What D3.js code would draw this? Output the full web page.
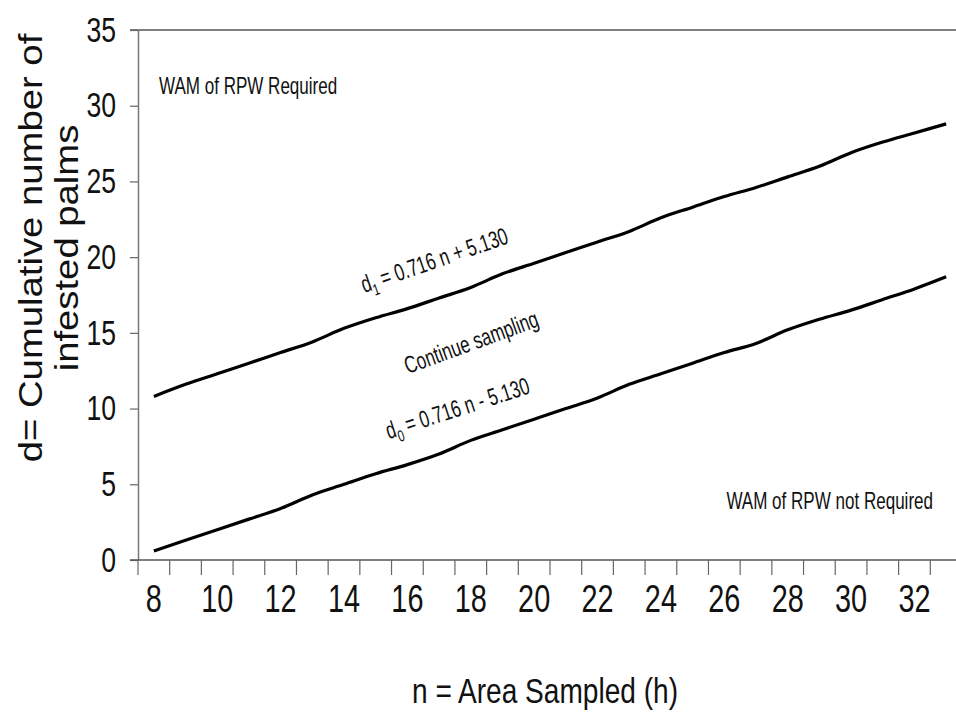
<!DOCTYPE html>
<html>
<head>
<meta charset="utf-8">
<script src="https://cdn.jsdelivr.net/npm/d3@7"></script>
<style>
  body { margin: 0; background: #fff; }
  svg { display: block; }
  text { font-family: "Liberation Sans", Arial, sans-serif; fill: #111; }
</style>
</head>
<body>
<div id="chart"></div>
<script>
// data
var areas = [8, 9, 10, 11, 12, 13, 14, 15, 16, 17, 18, 19, 20, 21, 22, 23, 24, 25, 26, 27, 28, 29, 30, 31, 32, 33]
var upperLine = [10.8, 11.6, 12.3, 13.0, 13.7, 14.4, 15.3, 16.0, 16.6, 17.3, 18.0, 18.9, 19.6, 20.3, 21.0, 21.7, 22.6, 23.3, 24.0, 24.6, 25.3, 26.0, 26.9, 27.6, 28.2, 28.8]
var lowerLine = [0.6, 1.3, 2.0, 2.7, 3.4, 4.3, 5.0, 5.7, 6.3, 7.0, 7.9, 8.6, 9.3, 10.0, 10.7, 11.6, 12.3, 13.0, 13.7, 14.3, 15.2, 15.9, 16.5, 17.2, 17.9, 18.7]
var xTickLabels = [8, 10, 12, 14, 16, 18, 20, 22, 24, 26, 28, 30, 32]
var yTicks = [0, 5, 10, 15, 20, 25, 30, 35]

var width = 956, height = 726
var margin = {top: 30, right: -6, bottom: 166, left: 138}
var narrow = 0.71   // no narrow font installed, so squeeze text horizontally

var svg = d3.select("#chart").append("svg")
    .attr("width", width)
    .attr("height", height)

var x = d3.scaleBand()
    .domain(areas)
    .range([margin.left, width - margin.right])

var y = d3.scaleLinear()
    .domain([0, 35])
    .range([height - margin.bottom, margin.top])

// text squeezed the way Arial Narrow looks
function narrowText(px, py, size, anchor, angle, squeeze) {
    return svg.append("text")
        .attr("transform", "translate(" + px + "," + py + ") rotate(" + (angle || 0) + ") scale(" + (squeeze || narrow) + ",1)")
        .attr("text-anchor", anchor || "start")
        .attr("font-size", size)
}

// top border line
svg.append("line")
    .attr("x1", margin.left - 8).attr("x2", width)
    .attr("y1", y(35)).attr("y2", y(35))
    .attr("stroke", "#555").attr("stroke-width", 1.5)

// Y axis
var yAxis = svg.append("g")
    .attr("transform", "translate(" + margin.left + ",0)")
    .call(d3.axisLeft(y).tickValues(yTicks).tickSize(8).tickSizeOuter(0).tickPadding(14))
yAxis.select(".domain").attr("stroke", "#777").attr("stroke-width", 1.5)
yAxis.selectAll(".tick line").attr("stroke", "#666").attr("stroke-width", 1.2)
yAxis.selectAll(".tick text")
    .attr("x", -22 / 0.76)
    .attr("transform", "scale(0.76,1)")
    .attr("font-family", "Liberation Sans, Arial, sans-serif")
    .attr("font-size", 35)
    .attr("fill", "#111")

// X axis: ticks on band edges, labels on every other band
var xAxis = svg.append("g")
    .attr("transform", "translate(0," + y(0) + ")")
xAxis.append("line")
    .attr("x1", margin.left - 8).attr("x2", width)
    .attr("stroke", "#555").attr("stroke-width", 1.5)
xAxis.selectAll(".xtick")
    .data(areas)
    .enter().append("line")
    .attr("class", "xtick")
    .attr("x1", function(d) { return x(d); })
    .attr("x2", function(d) { return x(d); })
    .attr("y1", 0).attr("y2", 15)
    .attr("stroke", "#666").attr("stroke-width", 1.2)
xAxis.selectAll(".xlabel")
    .data(xTickLabels)
    .enter().append("text")
    .attr("transform", function(d) { return "translate(" + (x(d) + x.bandwidth() / 2) + ",52) scale(0.76,1)"; })
    .attr("text-anchor", "middle")
    .attr("font-size", 38)
    .text(function(d) { return d; })

// the two decision lines
var line = d3.line()
    .x(function(d, i) { return x(areas[i]) + x.bandwidth() / 2; })
    .y(function(d) { return y(d); })
    .curve(d3.curveMonotoneX)

svg.append("path")
    .datum(upperLine)
    .attr("d", line)
    .attr("fill", "none").attr("stroke", "#000").attr("stroke-width", 3.2)
svg.append("path")
    .datum(lowerLine)
    .attr("d", line)
    .attr("fill", "none").attr("stroke", "#000").attr("stroke-width", 3.2)

// axis titles
narrowText(545, 703, 36, "middle", 0, 0.78).text("n = Area Sampled (h)")

var yTitle = svg.append("text")
    .attr("transform", "translate(0,248) rotate(-90) scale(1.16,1)")
    .attr("text-anchor", "middle")
    .attr("font-size", 33)
yTitle.append("tspan").attr("x", 0).attr("y", 42).text("d= Cumulative number of")
yTitle.append("tspan").attr("x", 0).attr("y", 78).text("infested palms")

// region notes
narrowText(159, 94, 24).text("WAM of RPW Required")
narrowText(933, 509, 24, "end").text("WAM of RPW not Required")

// rotated equations
var eq1 = narrowText(437, 268, 24, "middle", -19)
eq1.append("tspan").text("d")
eq1.append("tspan").attr("font-size", 16).attr("dy", 6).text("1")
eq1.append("tspan").attr("dy", -6).text(" = 0.716 n + 5.130")

narrowText(474, 350, 24, "middle", -20).text("Continue sampling")

var eq0 = narrowText(460, 416, 24, "middle", -18)
eq0.append("tspan").text("d")
eq0.append("tspan").attr("font-size", 16).attr("dy", 6).text("0")
eq0.append("tspan").attr("dy", -6).text(" = 0.716 n - 5.130")
</script>
</body>
</html>
